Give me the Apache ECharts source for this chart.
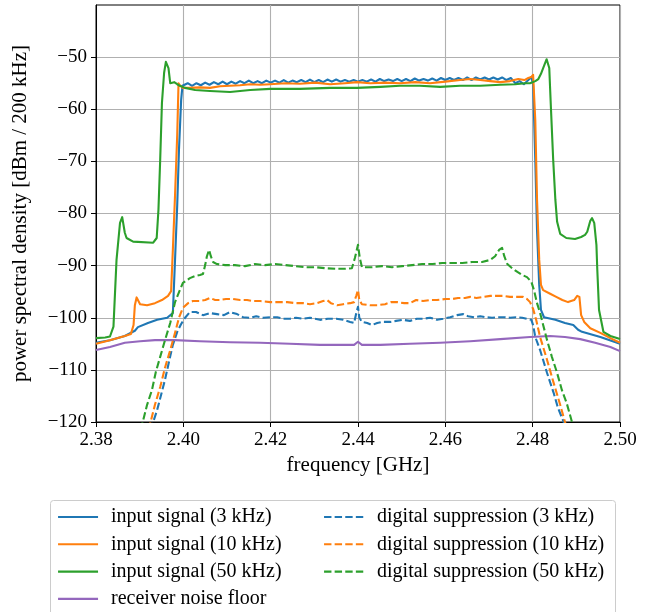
<!DOCTYPE html>
<html>
<head>
<meta charset="utf-8">
<script src="https://cdn.jsdelivr.net/npm/echarts@6/dist/echarts.min.js"></script>
<style>
html,body{margin:0;padding:0;background:#fff;}
#chart{width:652px;height:612px;}
</style>
</head>
<body>
<div id="chart"></div>
<script>
// ---- axis ranges / ticks ----
const xMin = 2.38, xMax = 2.50, xStep = 0.02;
const yMin = -120, yMax = -40, yStep = 10;
const yTickValues = [-120, -110, -100, -90, -80, -70, -60, -50];

// ---- series names ----
const names = {
  in3: 'input signal (3 kHz)',
  in10: 'input signal (10 kHz)',
  in50: 'input signal (50 kHz)',
  noise: 'receiver noise floor',
  dig3: 'digital suppression (3 kHz)',
  dig10: 'digital suppression (10 kHz)',
  dig50: 'digital suppression (50 kHz)'
};

// ---- data: [frequency GHz, PSD dBm/200kHz] ----
const inputSignal3kHz = [
  [2.3800,-104.8],[2.3832,-104.3],[2.3866,-103.5],[2.3889,-102.5],[2.3896,-101.8],[2.3919,-101.0],
  [2.3940,-100.4],[2.3963,-100.0],[2.3976,-99.1],[2.3981,-88.9],[2.3986,-78.4],[2.3990,-67.8],
  [2.3995,-58.2],[2.3998,-55.5],[2.4000,-55.4],
  [2.401,-55.0],[2.402,-55.5],[2.403,-55.0],[2.404,-55.4],[2.405,-54.9],[2.406,-55.3],[2.407,-54.8],
  [2.408,-55.2],[2.409,-54.7],[2.410,-55.2],[2.411,-54.7],[2.412,-55.1],[2.413,-54.6],[2.414,-55.0],
  [2.415,-54.5],[2.416,-55.0],[2.417,-54.6],[2.418,-55.0],[2.419,-54.5],[2.420,-54.9],[2.421,-54.5],
  [2.422,-54.9],[2.423,-54.4],[2.424,-54.9],[2.425,-54.5],[2.426,-54.8],[2.427,-54.4],[2.428,-54.8],
  [2.429,-54.3],[2.430,-54.8],[2.431,-54.4],[2.432,-54.8],[2.433,-54.3],[2.434,-54.7],[2.435,-54.3],
  [2.436,-54.7],[2.437,-54.4],[2.438,-54.7],[2.439,-54.4],[2.440,-54.7],[2.441,-54.4],[2.442,-54.7],
  [2.443,-54.3],[2.444,-54.7],[2.445,-54.2],[2.446,-54.6],[2.447,-54.3],[2.448,-54.6],[2.449,-54.2],
  [2.450,-54.6],[2.451,-54.2],[2.452,-54.6],[2.453,-54.1],[2.454,-54.5],[2.455,-54.2],[2.456,-54.5],
  [2.457,-54.1],[2.458,-54.5],[2.459,-54.0],[2.460,-54.4],[2.461,-54.0],[2.462,-54.4],[2.463,-54.0],
  [2.464,-54.4],[2.465,-53.9],[2.466,-54.4],[2.467,-53.9],[2.468,-54.3],[2.469,-53.9],[2.470,-54.3],
  [2.471,-53.9],[2.472,-54.3],[2.473,-53.9],[2.474,-54.4],[2.475,-54.0],[2.476,-55.0],[2.477,-54.6],
  [2.478,-55.2],[2.479,-54.4],
  [2.4797,-53.8],[2.4801,-55.3],[2.4806,-69.7],[2.4810,-83.2],[2.4815,-93.7],[2.4819,-98.5],
  [2.4826,-99.9],[2.4852,-100.4],[2.4874,-101.0],[2.4893,-101.4],[2.4904,-102.3],[2.4913,-102.7],
  [2.4955,-103.7],[2.5000,-105.0]
];

const inputSignal10kHz = [
  [2.3800,-105.0],[2.3832,-104.3],[2.3866,-103.5],[2.3880,-103.1],[2.3886,-101.4],[2.3889,-97.6],
  [2.3893,-96.1],[2.3901,-97.4],[2.3917,-97.6],[2.3935,-97.2],[2.3951,-96.6],[2.3965,-95.8],
  [2.3972,-94.9],[2.3976,-87.0],[2.3981,-76.5],[2.3986,-64.9],[2.3989,-55.0],[2.3992,-55.4],
  [2.3999,-55.9],[2.4015,-55.9],[2.4038,-55.8],[2.4061,-55.9],[2.4084,-55.6],[2.4107,-55.5],
  [2.4130,-55.4],[2.4153,-55.2],[2.4176,-55.3],[2.4199,-55.2],[2.4233,-55.0],[2.4267,-55.1],
  [2.4302,-54.9],[2.4336,-55.2],[2.4370,-55.0],[2.4398,-54.8],[2.4428,-55.0],[2.4462,-54.9],
  [2.4496,-55.0],[2.4531,-54.8],[2.4565,-55.0],[2.4600,-54.7],[2.4634,-54.4],[2.4657,-54.2],
  [2.4680,-54.4],[2.4703,-54.6],[2.4726,-54.8],[2.4748,-54.6],[2.4767,-54.2],[2.4781,-54.4],
  [2.4790,-54.0],[2.4797,-53.8],[2.4801,-53.4],[2.4806,-62.1],[2.4810,-77.4],[2.4815,-88.9],
  [2.4819,-93.7],[2.4824,-94.7],[2.4840,-95.4],[2.4854,-96.0],[2.4868,-96.6],[2.4881,-97.0],
  [2.4895,-96.6],[2.4902,-95.8],[2.4907,-96.0],[2.4911,-99.5],[2.4918,-100.8],[2.4932,-102.0],
  [2.4955,-102.9],[2.4978,-103.9],[2.5000,-104.8]
];

const inputSignal50kHz = [
  [2.3800,-103.9],[2.3821,-103.8],[2.3832,-103.6],[2.3840,-101.7],[2.3847,-88.9],[2.3855,-81.8],
  [2.3860,-80.7],[2.3866,-83.7],[2.3870,-84.7],[2.3885,-85.4],[2.3931,-85.6],[2.3939,-84.7],
  [2.3943,-79.3],[2.3947,-69.7],[2.3951,-58.8],[2.3956,-53.0],[2.3960,-50.9],[2.3966,-52.1],
  [2.3970,-55.0],[2.3979,-54.8],[2.3986,-55.2],[2.3992,-55.5],[2.4004,-55.9],[2.4027,-56.3],
  [2.4061,-56.5],[2.4107,-56.7],[2.4153,-56.3],[2.4199,-56.1],[2.4267,-56.1],[2.4336,-55.9],
  [2.4398,-55.9],[2.4451,-55.7],[2.4496,-55.5],[2.4542,-55.5],[2.4588,-55.7],[2.4634,-55.5],
  [2.4680,-55.5],[2.4726,-55.3],[2.4760,-55.2],[2.4783,-55.0],[2.4794,-55.0],[2.4806,-54.6],
  [2.4813,-54.2],[2.4819,-53.2],[2.4826,-51.7],[2.4832,-50.4],[2.4836,-50.5],[2.4838,-52.1],
  [2.4842,-60.1],[2.4847,-69.7],[2.4852,-77.4],[2.4856,-81.6],[2.4863,-83.9],[2.4877,-84.7],
  [2.4897,-84.9],[2.4911,-84.5],[2.4920,-84.1],[2.4925,-83.5],[2.4932,-81.4],[2.4936,-80.9],
  [2.4941,-81.8],[2.4946,-86.0],[2.4948,-90.8],[2.4952,-98.5],[2.4962,-102.7],[2.4978,-103.5],
  [2.5000,-104.1]
];

const noiseFloor = [
  [2.3800,-106.2],[2.3832,-105.6],[2.3866,-104.8],[2.3901,-104.5],[2.3935,-104.3],[2.3981,-104.3],
  [2.4038,-104.5],[2.4107,-104.7],[2.4176,-104.8],[2.4244,-105.0],[2.4313,-105.2],[2.4391,-105.2],
  [2.4400,-104.6],[2.4409,-105.2],[2.4451,-105.2],[2.4519,-105.0],[2.4588,-104.8],[2.4657,-104.5],
  [2.4726,-104.1],[2.4794,-103.7],[2.4840,-103.5],[2.4874,-103.7],[2.4909,-104.1],[2.4943,-104.8],
  [2.4978,-105.6],[2.5000,-106.4]
];

const digital3kHz = [
  [2.3919,-123.5],[2.3931,-120.0],[2.3940,-117.7],[2.3949,-114.8],[2.3958,-111.9],[2.3967,-108.5],
  [2.3976,-105.2],[2.3986,-102.7],[2.3995,-101.2],[2.4004,-100.0],[2.4015,-98.9],[2.4029,-98.9],
  [2.4045,-99.5],[2.4061,-99.1],[2.4077,-99.3],[2.4093,-99.5],[2.4107,-98.9],[2.4123,-99.3],
  [2.4137,-99.9],[2.4153,-100.0],[2.4167,-99.7],[2.4183,-100.0],[2.4199,-99.9],[2.4215,-99.9],
  [2.4228,-100.2],[2.4244,-100.2],[2.4258,-100.0],[2.4274,-100.2],[2.4290,-100.0],[2.4313,-100.4],
  [2.4331,-100.2],[2.4350,-100.2],[2.4366,-100.4],[2.4382,-100.8],[2.4391,-101.0],[2.4396,-99.1],
  [2.4400,-97.9],[2.4403,-100.0],[2.4409,-100.8],[2.4421,-101.0],[2.4432,-101.4],[2.4444,-101.0],
  [2.4455,-100.8],[2.4474,-100.8],[2.4487,-100.6],[2.4503,-100.4],[2.4519,-100.6],[2.4535,-100.2],
  [2.4549,-100.2],[2.4565,-100.0],[2.4581,-100.4],[2.4595,-100.2],[2.4611,-99.9],[2.4627,-99.5],
  [2.4641,-99.3],[2.4652,-99.7],[2.4666,-99.9],[2.4680,-99.7],[2.4693,-99.9],[2.4707,-100.0],
  [2.4721,-99.9],[2.4735,-99.9],[2.4748,-100.0],[2.4762,-99.9],[2.4776,-100.0],[2.4787,-100.2],
  [2.4797,-100.4],[2.4801,-101.4],[2.4806,-103.7],[2.4817,-106.2],[2.4833,-110.6],[2.4848,-114.4],
  [2.4858,-117.3],[2.4871,-120.0],[2.4879,-122.3]
];

const digital10kHz = [
  [2.3917,-123.5],[2.3925,-120.0],[2.3935,-116.7],[2.3947,-113.3],[2.3958,-109.6],[2.3970,-106.2],
  [2.3981,-102.9],[2.3990,-100.0],[2.3999,-98.1],[2.4011,-97.2],[2.4022,-96.8],[2.4038,-96.8],
  [2.4050,-96.6],[2.4061,-96.2],[2.4073,-96.6],[2.4084,-96.6],[2.4098,-96.4],[2.4114,-96.4],
  [2.4130,-96.6],[2.4146,-96.6],[2.4160,-96.8],[2.4176,-96.8],[2.4199,-97.0],[2.4222,-97.0],
  [2.4238,-97.0],[2.4256,-97.2],[2.4274,-97.2],[2.4290,-97.4],[2.4306,-97.2],[2.4320,-96.8],
  [2.4329,-96.6],[2.4338,-97.2],[2.4352,-97.6],[2.4366,-97.4],[2.4382,-97.2],[2.4391,-97.0],
  [2.4396,-95.8],[2.4400,-94.7],[2.4403,-96.6],[2.4409,-97.4],[2.4428,-97.6],[2.4444,-97.6],
  [2.4462,-97.4],[2.4476,-97.0],[2.4490,-97.0],[2.4506,-97.2],[2.4519,-97.2],[2.4533,-96.6],
  [2.4549,-96.8],[2.4565,-96.6],[2.4581,-96.6],[2.4600,-96.4],[2.4616,-96.4],[2.4629,-96.2],
  [2.4645,-96.2],[2.4657,-96.0],[2.4671,-96.2],[2.4687,-96.0],[2.4703,-95.8],[2.4716,-95.8],
  [2.4732,-95.8],[2.4748,-96.0],[2.4765,-96.0],[2.4778,-96.0],[2.4787,-96.4],[2.4794,-97.0],
  [2.4801,-98.3],[2.4808,-100.4],[2.4817,-103.7],[2.4833,-108.1],[2.4848,-112.5],[2.4863,-116.7],
  [2.4874,-120.0],[2.4884,-122.5]
];

const digital50kHz = [
  [2.3899,-123.5],[2.3907,-120.0],[2.3917,-116.7],[2.3928,-113.9],[2.3937,-110.4],[2.3947,-107.5],
  [2.3958,-104.3],[2.3970,-101.0],[2.3981,-97.0],[2.3992,-94.7],[2.3999,-93.3],[2.4008,-92.8],
  [2.4015,-92.4],[2.4027,-92.0],[2.4038,-91.8],[2.4045,-91.6],[2.4050,-89.9],[2.4054,-88.2],
  [2.4059,-87.0],[2.4063,-88.2],[2.4068,-89.3],[2.4077,-89.7],[2.4096,-89.9],[2.4118,-89.9],
  [2.4141,-90.1],[2.4164,-89.7],[2.4187,-89.9],[2.4210,-89.7],[2.4233,-89.9],[2.4256,-90.1],
  [2.4279,-90.3],[2.4302,-90.3],[2.4325,-90.5],[2.4348,-90.6],[2.4370,-90.6],[2.4386,-90.5],
  [2.4393,-88.5],[2.4400,-86.0],[2.4404,-88.5],[2.4409,-90.3],[2.4432,-90.3],[2.4455,-90.1],
  [2.4478,-90.3],[2.4501,-90.1],[2.4524,-89.9],[2.4547,-89.7],[2.4570,-89.7],[2.4593,-89.5],
  [2.4616,-89.5],[2.4639,-89.5],[2.4661,-89.3],[2.4684,-89.3],[2.4703,-88.9],[2.4714,-88.2],
  [2.4723,-87.0],[2.4730,-86.6],[2.4735,-88.2],[2.4742,-89.7],[2.4753,-90.5],[2.4765,-91.2],
  [2.4776,-91.8],[2.4787,-92.2],[2.4797,-93.1],[2.4803,-94.7],[2.4810,-97.2],[2.4817,-99.1],
  [2.4833,-104.3],[2.4844,-107.5],[2.4856,-110.6],[2.4867,-113.9],[2.4878,-116.4],[2.4890,-120.0],
  [2.4897,-122.5]
];

// ---- colours ----
const C = { blue:'#1f77b4', orange:'#ff7f0e', green:'#2ca02c', purple:'#9467bd' };
const FONT = '"Liberation Serif", "Times New Roman", serif';
const DASH = [7.4, 3.2];

function mk(name, data, color, dashed, z) {
  return {
    type: 'line', name: name, data: data, symbol: 'none', showSymbol: false,
    clip: true, animation: false, z: z,
    lineStyle: { color: color, width: 2.1, type: dashed ? DASH : 'solid', cap: 'butt', join: 'round' },
    itemStyle: { color: color },
    emphasis: { disabled: true }
  };
}

const minus = s => String(s).replace('-', '\u2212');

const chart = echarts.init(document.getElementById('chart'), null, { renderer: 'canvas' });
const legendCommon = {
  orient: 'vertical', top: 507, itemWidth: 40, itemHeight: 14, itemGap: 7.3, padding: 0,
  selectedMode: false,
  itemStyle: { opacity: 0, borderWidth: 0 },
  lineStyle: { width: 2.1 },
  textStyle: { fontFamily: FONT, fontSize: 20, color: '#000', lineHeight: 20, padding: [0, 0, 0, 8] }
};
chart.setOption({
  backgroundColor: '#fff',
  animation: false,
  grid: { left: 96, right: 32, top: 5, bottom: 190, show: true, borderColor: '#000', borderWidth: 1, backgroundColor: 'transparent' },
  xAxis: {
    type: 'value', min: xMin, max: xMax, interval: xStep,
    name: 'frequency [GHz]', nameLocation: 'middle', nameGap: 32,
    nameTextStyle: { fontFamily: FONT, fontSize: 21, color: '#000' },
    axisLine: { show: true, lineStyle: { color: '#000', width: 1 } },
    axisTick: { show: true, inside: false, length: 5, lineStyle: { color: '#000', width: 1 } },
    axisLabel: { fontFamily: FONT, fontSize: 19, color: '#000', margin: 9, formatter: v => v.toFixed(2) },
    splitLine: { show: true, lineStyle: { color: '#b0b0b0', width: 1.1 } }
  },
  yAxis: {
    type: 'value', min: yMin, max: yMax, interval: yStep,
    name: 'power spectral density [dBm / 200 kHz]', nameLocation: 'middle', nameGap: 65,
    nameTextStyle: { fontFamily: FONT, fontSize: 21, color: '#000' },
    axisLine: { show: true, lineStyle: { color: '#000', width: 1 } },
    axisTick: { show: true, inside: false, length: 5, customValues: yTickValues, lineStyle: { color: '#000', width: 1 } },
    axisLabel: { fontFamily: FONT, fontSize: 19, color: '#000', margin: 9, customValues: yTickValues,
      formatter: v => (v === yMax ? '' : minus(v)) },
    splitLine: { show: true, lineStyle: { color: '#b0b0b0', width: 1.1 } }
  },
  graphic: [{
    type: 'rect', z: 0, silent: true,
    shape: { x: 50.5, y: 500.5, width: 565, height: 130, r: 3 },
    style: { fill: '#fff', stroke: '#cccccc', lineWidth: 1 }
  }],
  legend: [
    Object.assign({}, legendCommon, { left: 57, data: [names.in3, names.in10, names.in50, names.noise] }),
    Object.assign({}, legendCommon, { left: 323, data: [names.dig3, names.dig10, names.dig50] })
  ],
  series: [
    mk(names.in3, inputSignal3kHz, C.blue, false, 2),
    mk(names.in10, inputSignal10kHz, C.orange, false, 3),
    mk(names.in50, inputSignal50kHz, C.green, false, 4),
    mk(names.noise, noiseFloor, C.purple, false, 5),
    mk(names.dig3, digital3kHz, C.blue, true, 6),
    mk(names.dig10, digital10kHz, C.orange, true, 7),
    mk(names.dig50, digital50kHz, C.green, true, 8)
  ]
});
</script>
</body>
</html>
